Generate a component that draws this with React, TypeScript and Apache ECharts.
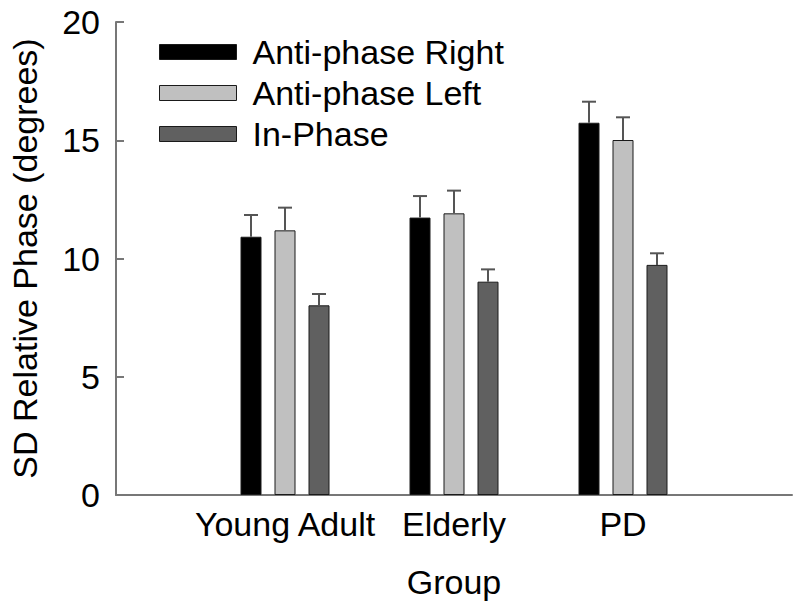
import React, { useEffect, useRef } from "react";
import * as echarts from "echarts";

const categories = ["", "Young Adult", "Elderly", "PD", ""];
const seriesNames = ["Anti-phase Right", "Anti-phase Left", "In-Phase"];
const antiRight = [null, 10.92, 11.73, 15.74, null];
const antiLeft = [null, 11.19, 11.91, 15.01, null];
const inPhase = [null, 8.02, 9.02, 9.73, null];
const antiRightErr = [null, 0.92, 0.91, 0.89, null];
const antiLeftErr = [null, 0.96, 0.96, 0.96, null];
const inPhaseErr = [null, 0.48, 0.52, 0.49, null];
const yTicks = [0, 5, 10, 15, 20];

const colors = ["#000000", "#c0c0c0", "#606060"];
const FONT = "'Liberation Sans', Arial, Helvetica, sans-serif";
const BAR_W = 21;
const BAR_GAP = 13;

export default function App() {
  const ref = useRef<HTMLDivElement>(null);
  useEffect(() => {
    if (!ref.current) return;
    const chart = echarts.init(ref.current, null, { renderer: "svg" });
    const values = [antiRight, antiLeft, inPhase];
    const errs = [antiRightErr, antiLeftErr, inPhaseErr];

    const barSeries = values.map((vals, i) => ({
      name: seriesNames[i],
      type: "bar",
      data: vals,
      barWidth: BAR_W,
      barGap: (BAR_GAP / BAR_W) * 100 + "%",
      itemStyle: { color: colors[i], borderColor: "#1a1a1a", borderWidth: 1 },
      z: 2,
    }));

    const errSeries = values.map((vals, i) => ({
      type: "custom",
      name: seriesNames[i] + " error",
      data: vals
        .map((v, k) => (v == null ? null : [k, v, errs[i][k]]))
        .filter((d) => d != null),
      encode: { x: 0, y: 1 },
      z: 3,
      silent: true,
      renderItem: (params: any, api: any) => {
        const idx = api.value(0);
        const mean = api.value(1);
        const err = api.value(2);
        const offset = (i - 1) * (BAR_W + BAR_GAP);
        const p0 = api.coord([idx, mean]);
        const p1 = api.coord([idx, mean + err]);
        const x = p0[0] + offset;
        const style = { stroke: "#555555", lineWidth: 2 };
        return {
          type: "group",
          children: [
            { type: "line", shape: { x1: x, y1: p0[1], x2: x, y2: p1[1] }, style },
            { type: "line", shape: { x1: x - 7, y1: p1[1], x2: x + 7, y2: p1[1] }, style },
          ],
        };
      },
    }));

    chart.setOption({
      animation: false,
      backgroundColor: "#ffffff",
      textStyle: { fontFamily: FONT },
      grid: { left: 116, right: 8, top: 22, bottom: 115, containLabel: false },
      legend: {
        data: seriesNames,
        orient: "vertical",
        left: 154,
        top: 30,
        itemWidth: 77,
        itemHeight: 15,
        itemGap: 7,
        icon: "rect",
        textStyle: { fontSize: 34, color: "#000", fontFamily: FONT, padding: [0, 0, 0, 11] },
        itemStyle: { borderColor: "#1a1a1a", borderWidth: 1 },
        selectedMode: false,
      },
      xAxis: {
        type: "category",
        data: categories,
        boundaryGap: false,
        name: "Group",
        nameLocation: "middle",
        nameGap: 70,
        nameTextStyle: { fontSize: 34, color: "#000", fontFamily: FONT },
        axisLine: { lineStyle: { color: "#777777", width: 2 } },
        axisTick: { show: false },
        axisLabel: { fontSize: 34, color: "#000", margin: 12, fontFamily: FONT, interval: 0 },
        splitLine: { show: false },
      },
      yAxis: {
        type: "value",
        min: yTicks[0],
        max: yTicks[yTicks.length - 1],
        interval: yTicks[1] - yTicks[0],
        name: "SD Relative Phase (degrees)",
        nameLocation: "middle",
        nameGap: 74,
        nameTextStyle: { fontSize: 34, color: "#000", fontFamily: FONT },
        axisLine: { show: true, lineStyle: { color: "#777777", width: 2 } },
        axisTick: { show: true, inside: true, length: 8, lineStyle: { color: "#777777", width: 2 } },
        axisLabel: { fontSize: 34, color: "#000", margin: 16, fontFamily: FONT },
        splitLine: { show: false },
      },
      series: [...barSeries, ...errSeries],
    });
    return () => chart.dispose();
  }, []);
  return (
    <div
      ref={ref}
      style={{ position: "fixed", left: 0, top: 0, width: 800, height: 610, background: "#fff" }}
    />
  );
}
